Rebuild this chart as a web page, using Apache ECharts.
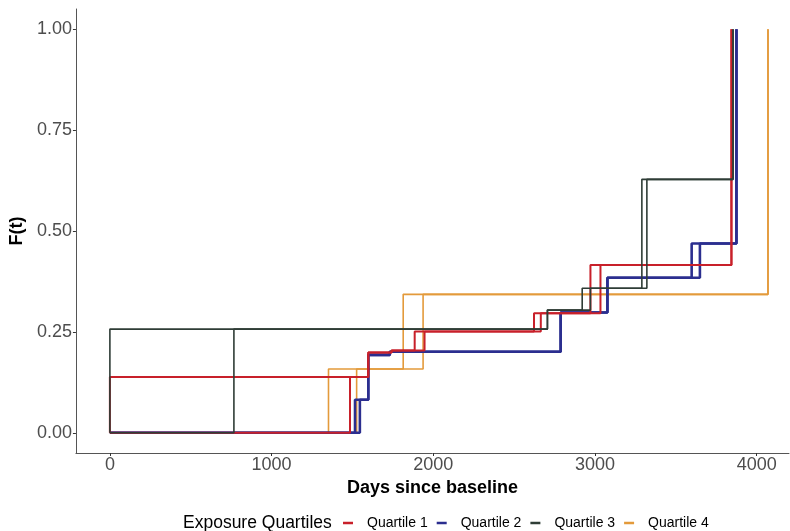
<!DOCTYPE html>
<html>
<head>
<meta charset="utf-8">
<script src="https://cdn.jsdelivr.net/npm/echarts@6/dist/echarts.min.js"></script>
<style>
html,body{margin:0;padding:0;background:#fff;}
#chart{width:790px;height:531px;}
</style>
</head>
<body>
<div id="chart"></div>
<script>
// Step functions [days, F(t)] : lower and upper bounds per quartile
var q1Upper = [[0,0],[0,0.138],[1598,0.199],[1742,0.204],[1885,0.251],[2623,0.296],[2972,0.416],[3844,1]];
var q1Lower = [[0,0],[1485,0.138],[1598,0.199],[1742,0.204],[1946,0.251],[2665,0.296],[3034,0.416],[3844,1]];
var q2Upper = [[0,0],[1516,0.082],[1598,0.193],[1731,0.201],[2788,0.298],[3077,0.384],[3598,0.469],[3875,1]];
var q2Lower = [[0,0],[1546,0.082],[1598,0.193],[1731,0.201],[2788,0.298],[3077,0.384],[3649,0.469],[3875,1]];
var q3Upper = [[0,0],[0,0.257],[2706,0.304],[2921,0.358],[3290,0.628],[3854,1]];
var q3Lower = [[0,0],[767,0.257],[2706,0.304],[2972,0.358],[3321,0.628],[3854,1]];
var q4Upper = [[0,0],[1352,0.158],[1814,0.343],[4070,1]];
var q4Lower = [[0,0],[1526,0.158],[1937,0.343],[4070,1]];

var quartileNames = ['Quartile 1','Quartile 2','Quartile 3','Quartile 4'];
var xTicks = [0,1000,2000,3000,4000];
var yTicks = [0,0.25,0.5,0.75,1];

var colors = {q1:'#c8202a', q2:'#2b2e8f', q3:'#2f3d36', q4:'#e39a3b'};
var FONT = 'Liberation Sans, Arial, Helvetica, sans-serif';

function stepSeries(name, data, color, width) {
  return {
    name: name, type: 'line', step: 'end', data: data,
    showSymbol: false, symbol: 'none', animation: false,
    lineStyle: {color: color, width: width},
    itemStyle: {color: color},
    emphasis: {disabled: true}
  };
}

var chart = echarts.init(document.getElementById('chart'), null, {renderer:'canvas'});
chart.setOption({
  backgroundColor: '#ffffff',
  animation: false,
  textStyle: {fontFamily: FONT},
  title: {
    text: 'Exposure Quartiles', left: 178, top: 509,
    textStyle: {fontSize: 17.5, fontWeight: 'normal', color: '#000', fontFamily: FONT}
  },
  legend: {
    data: quartileNames, left: 338, top: 511,
    icon: 'rect', itemWidth: 10, itemHeight: 2.5, itemGap: 9,
    textStyle: {fontSize: 14, color: '#000', fontFamily: FONT, padding: [0,0,0,9]}
  },
  grid: {left: 73, right: 1, top: 9, bottom: 78, containLabel: false},
  xAxis: {
    type: 'value', min: -210, max: 4200,
    name: 'Days since baseline', nameLocation: 'middle', nameGap: 15,
    nameTextStyle: {fontSize: 18, fontWeight: 'bold', color: '#000', fontFamily: FONT},
    axisLine: {show: true, onZero: false, lineStyle: {color: '#555', width: 1}},
    axisTick: {show: true, length: 3, customValues: xTicks, lineStyle: {color: '#333'}},
    axisLabel: {customValues: xTicks, fontSize: 18, color: '#4d4d4d', margin: 3, fontFamily: FONT,
      formatter: function(v){ return String(v); }},
    splitLine: {show: false}
  },
  yAxis: {
    type: 'value', min: -0.05, max: 1.05,
    name: 'F(t)', nameLocation: 'middle', nameGap: 39, nameRotate: 90,
    nameTextStyle: {fontSize: 18, fontWeight: 'bold', color: '#000', fontFamily: FONT},
    axisLine: {show: true, onZero: false, lineStyle: {color: '#555', width: 1}},
    axisTick: {show: true, length: 3, customValues: yTicks, lineStyle: {color: '#333'}},
    axisLabel: {customValues: yTicks, fontSize: 18, color: '#4d4d4d', margin: 4, fontFamily: FONT,
      formatter: function(v){ return v.toFixed(2); }},
    splitLine: {show: false}
  },
  series: [
    stepSeries('Quartile 4', q4Upper, colors.q4, 1.6),
    stepSeries('Quartile 4', q4Lower, colors.q4, 1.6),
    stepSeries('Quartile 2', q2Upper, colors.q2, 2.6),
    stepSeries('Quartile 2', q2Lower, colors.q2, 2.6),
    stepSeries('Quartile 1', q1Upper, colors.q1, 2),
    stepSeries('Quartile 1', q1Lower, colors.q1, 2),
    stepSeries('Quartile 3', q3Upper, colors.q3, 1.6),
    stepSeries('Quartile 3', q3Lower, colors.q3, 1.6)
  ]
});
</script>
</body>
</html>
